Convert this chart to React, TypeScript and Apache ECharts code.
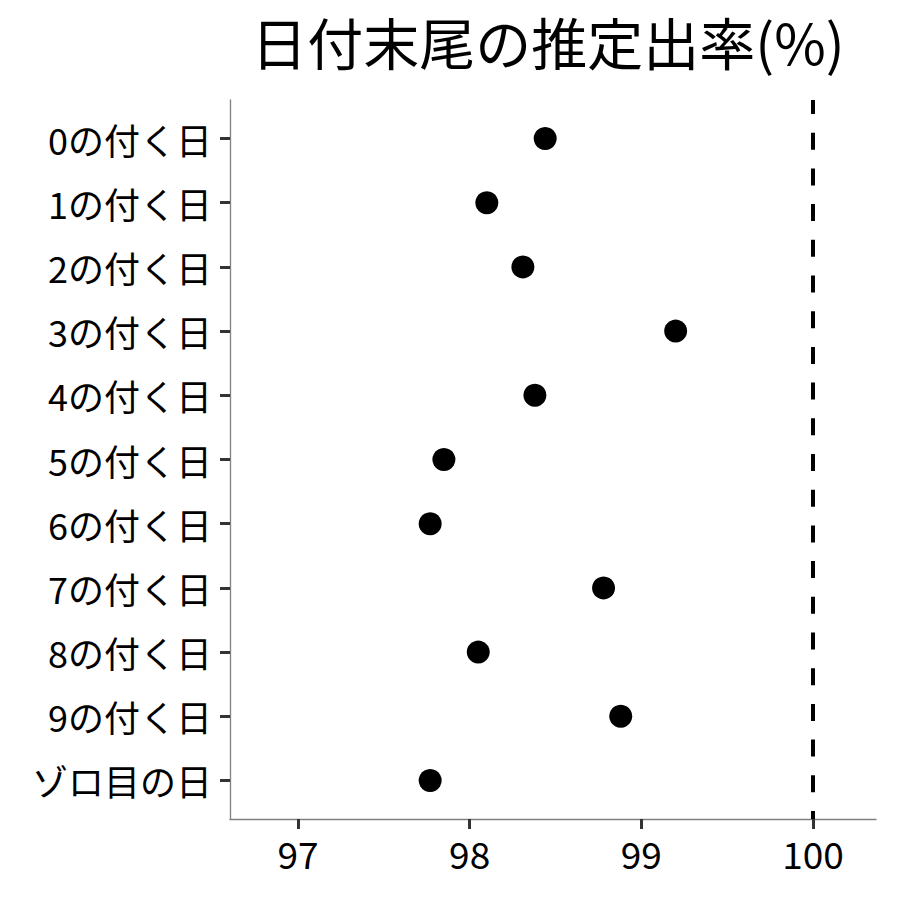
import React, { useEffect, useRef } from "react";
import * as echarts from "echarts";

const title = "日付末尾の推定出率(%)";
const categories = [
  "0の付く日",
  "1の付く日",
  "2の付く日",
  "3の付く日",
  "4の付く日",
  "5の付く日",
  "6の付く日",
  "7の付く日",
  "8の付く日",
  "9の付く日",
  "ゾロ目の日",
];
const rates = [98.44, 98.1, 98.31, 99.2, 98.38, 97.85, 97.77, 98.78, 98.05, 98.88, 97.77];
const xTicks = [97, 98, 99, 100];
const referenceLine = 100;

const FONT = "'Noto Sans CJK JP', 'Noto Sans', sans-serif";

export default function App() {
  const ref = useRef<HTMLDivElement>(null);
  useEffect(() => {
    if (!ref.current) return;
    const chart = echarts.init(ref.current, null, { renderer: "svg" });
    const yIdx = categories.map((_, i) => i);
    chart.setOption({
      animation: false,
      backgroundColor: "#ffffff",
      textStyle: { fontFamily: FONT },
      title: {
        text: title,
        left: 548,
        top: 8,
        padding: 0,
        textAlign: "center",
        textStyle: { fontFamily: FONT, fontSize: 56, lineHeight: 64, fontWeight: "normal", color: "#000" },
      },
      grid: { left: 230, right: 24, top: 100, bottom: 81, containLabel: false },
      xAxis: {
        type: "value",
        min: 96.604,
        max: 100.367,
        splitLine: { show: false },
        axisLine: { show: true, onZero: false, lineStyle: { color: "#808080", width: 1.3 } },
        axisTick: {
          show: true,
          length: 10,
          customValues: xTicks,
          lineStyle: { color: "#333333", width: 3 },
        },
        axisLabel: {
          customValues: xTicks,
          margin: 15,
          fontSize: 37,
          color: "#000",
          fontFamily: FONT,
          formatter: (v: number) => String(v),
        },
      },
      yAxis: {
        type: "value",
        inverse: true,
        min: -0.6,
        max: 10.6,
        splitLine: { show: false },
        axisLine: { show: true, onZero: false, lineStyle: { color: "#808080", width: 1.3 } },
        axisTick: {
          show: true,
          length: 10,
          customValues: yIdx,
          lineStyle: { color: "#333333", width: 3 },
        },
        axisLabel: {
          customValues: yIdx,
          margin: 18,
          fontSize: 36,
          color: "#000",
          fontFamily: FONT,
          formatter: (v: number) => categories[Math.round(v)] ?? "",
        },
      },
      series: [
        {
          type: "scatter",
          symbol: "circle",
          symbolSize: 23,
          itemStyle: { color: "#000000", opacity: 1 },
          data: rates.map((r, i) => [r, i]),
          markLine: {
            silent: true,
            symbol: ["none", "none"],
            label: { show: false },
            lineStyle: { color: "#000000", width: 4, type: [17, 18.7], dashOffset: 3 },
            data: [{ xAxis: referenceLine }],
          },
        },
      ],
    });
    return () => chart.dispose();
  }, []);
  return <div ref={ref} style={{ width: 900, height: 900, position: "absolute", left: 0, top: 0 }} />;
}
